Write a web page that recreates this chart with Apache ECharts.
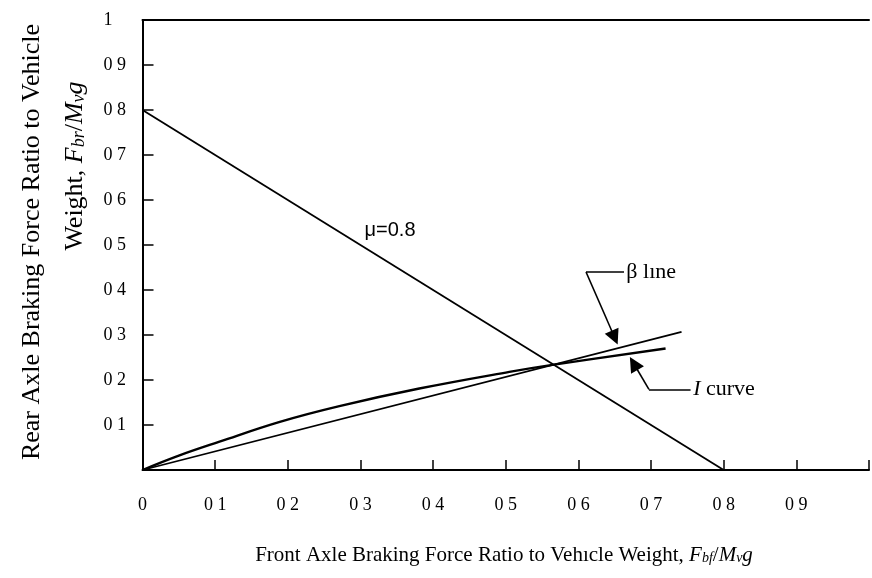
<!DOCTYPE html>
<html>
<head>
<meta charset="utf-8">
<script src="https://cdn.jsdelivr.net/npm/echarts@6/dist/echarts.min.js"></script>
<style>
  html, body { margin: 0; padding: 0; background: #fff; }
  #chart { width: 872px; height: 578px; }
</style>
</head>
<body>
<div id="chart"></div>
<script>
// Tick labels (decimal points are printed as a gap)
const xTickLabels = ['0', '0 1', '0 2', '0 3', '0 4', '0 5', '0 6', '0 7', '0 8', '0 9', ''];
const yTickLabels = ['', '0 1', '0 2', '0 3', '0 4', '0 5', '0 6', '0 7', '0 8', '0 9', '1'];

// Friction line, mu = 0.8
const muLine = [[0, 0.8], [0.8, 0]];
// Installed brake force distribution (beta line)
const betaLine = [[0, 0], [0.742, 0.307]];
// Ideal braking force distribution (I curve)
const iCurve = [
  [0, 0], [0.05, 0.032], [0.106, 0.063], [0.189, 0.107], [0.271, 0.142],
  [0.381, 0.181], [0.505, 0.218], [0.562, 0.233], [0.72, 0.27]
];

// Callout leaders (data coordinates): label end -> elbow, then elbow -> arrowhead centre
const betaElbow = [[0.6628, 0.44], [0.6105, 0.44]];
const betaArrow = [[0.6105, 0.44], [0.6499, 0.2944]];
const iElbow = [[0.7544, 0.1793], [0.6971, 0.1793]];
const iArrow = [[0.6971, 0.1793], [0.6761, 0.2367]];
// Text anchors (data coordinates)
const muLabelAt = [0.3056, 0.533];
const betaLabelAt = [0.666, 0.44];
const iLabelAt = [0.758, 0.1793];

const SERIF = '"Liberation Serif", "Times New Roman", serif';
const SANS = '"Liberation Sans", Arial, sans-serif';

const chart = echarts.init(document.getElementById('chart'), null, { renderer: 'canvas' });

const tickIdx = v => Math.round(v * 10);

chart.setOption({
  animation: false,
  backgroundColor: '#fff',
  grid: { left: 142.5, right: 1.5, top: 20, bottom: 108, containLabel: false },
  xAxis: [{
    type: 'value', min: 0, max: 1, interval: 0.1,
    axisLine: { show: true, lineStyle: { color: '#000', width: 2 } },
    axisTick: { show: true, inside: true, length: 10, lineStyle: { color: '#000', width: 1.5 } },
    axisLabel: {
      show: true, margin: 26, color: '#000', fontFamily: SERIF, fontSize: 18,
      formatter: v => xTickLabels[tickIdx(v)]
    },
    splitLine: { show: false }
  }, {
    type: 'value', position: 'top', min: 0, max: 1,
    axisLine: { show: true, onZero: false, lineStyle: { color: '#000', width: 2 } },
    axisTick: { show: false }, axisLabel: { show: false }, splitLine: { show: false }
  }],
  yAxis: {
    type: 'value', min: 0, max: 1, interval: 0.1,
    axisLine: { show: true, lineStyle: { color: '#000', width: 2 } },
    axisTick: { show: true, inside: true, length: 11, lineStyle: { color: '#000', width: 1.5 } },
    axisLabel: {
      show: true, margin: 39, align: 'left', color: '#000', fontFamily: SERIF, fontSize: 18,
      formatter: v => yTickLabels[tickIdx(v)]
    },
    splitLine: { show: false }
  },
  series: [
    {
      name: 'mu', type: 'line', data: muLine, showSymbol: false, symbol: 'none',
      lineStyle: { color: '#000', width: 1.8 }
    },
    {
      name: 'beta', type: 'line', data: betaLine, showSymbol: false, symbol: 'none',
      lineStyle: { color: '#000', width: 1.8 }
    },
    {
      name: 'I', type: 'line', data: iCurve, showSymbol: false, symbol: 'none',
      smooth: 0.4,
      lineStyle: { color: '#000', width: 2.4 }
    },
    {
      name: 'leaderElbows', type: 'lines', coordinateSystem: 'cartesian2d',
      symbol: ['none', 'none'],
      lineStyle: { color: '#000', width: 1.6, opacity: 1, curveness: 0 },
      data: [{ coords: betaElbow }, { coords: iElbow }]
    },
    {
      name: 'leaderArrows', type: 'lines', coordinateSystem: 'cartesian2d',
      symbol: ['none', 'triangle'], symbolSize: [0, 15],
      itemStyle: { color: '#000' },
      lineStyle: { color: '#000', width: 1.6, opacity: 1, curveness: 0 },
      data: [{ coords: betaArrow }, { coords: iArrow }]
    }
  ]
});

const px = p => chart.convertToPixel({ gridIndex: 0 }, p);
const muP = px(muLabelAt), betaP = px(betaLabelAt), iP = px(iLabelAt);

const subRich = size => ({
  it: { fontFamily: SERIF, fontSize: size, fontStyle: 'italic', fill: '#000' },
  sub: { fontFamily: SERIF, fontSize: Math.round(size * 0.68), fontStyle: 'italic', fill: '#000',
         verticalAlign: 'bottom', lineHeight: Math.round(size * 0.55) },
  n: { fontFamily: SERIF, fontSize: size, fill: '#000' }
});

chart.setOption({
  graphic: [
    {
      type: 'text', x: 32, y: 242, rotation: Math.PI / 2,
      style: {
        text: 'Rear Axle Braking Force Ratio to Vehicle',
        fontFamily: SERIF, fontSize: 26, fill: '#000', align: 'center', verticalAlign: 'middle'
      }
    },
    {
      type: 'text', x: 75, y: 166, rotation: Math.PI / 2,
      style: {
        text: '{n|Weight, }{it|F}{sub|br}{n|/}{it|M}{sub|v}{it|g}',
        rich: subRich(26), fontSize: 26, fill: '#000', align: 'center', verticalAlign: 'middle'
      }
    },
    {
      type: 'text', x: 504, y: 555,
      style: {
        text: '{n|Front Axle Braking Force Ratio to Vehıcle Weight, }{it|F}{sub|bf}{n|/}{it|M}{sub|v}{it|g}',
        rich: subRich(21), fontSize: 21, fill: '#000', align: 'center', verticalAlign: 'middle'
      }
    },
    {
      type: 'text', x: muP[0], y: muP[1],
      style: { text: 'μ=0.8', fontFamily: SANS, fontSize: 20, fill: '#000', align: 'left', verticalAlign: 'middle' }
    },
    {
      type: 'text', x: betaP[0], y: betaP[1],
      style: { text: 'β lıne', fontFamily: SERIF, fontSize: 22, fill: '#000', align: 'left', verticalAlign: 'middle' }
    },
    {
      type: 'text', x: iP[0], y: iP[1],
      style: {
        text: '{it|I}{n| curve}', rich: subRich(22), fontSize: 22, fill: '#000',
        align: 'left', verticalAlign: 'middle'
      }
    }
  ]
});
</script>
</body>
</html>
